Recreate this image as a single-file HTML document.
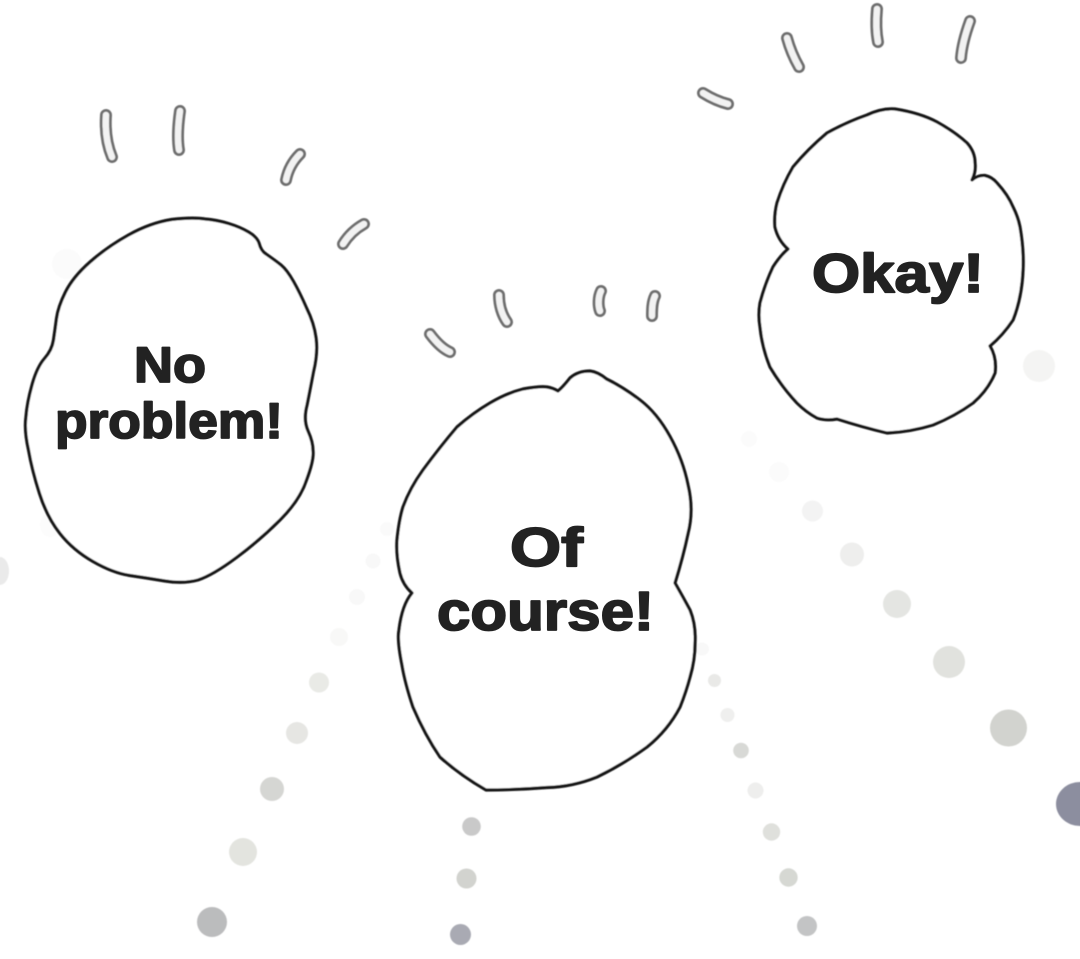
<!DOCTYPE html>
<html><head><meta charset="utf-8"><style>
html,body{margin:0;padding:0;background:#fff;width:1080px;height:959px;overflow:hidden}
svg{display:block}
text{font-family:"Liberation Sans",sans-serif;font-weight:700;fill:#222;stroke:#222;stroke-width:1.8px;stroke-linejoin:round}
</style></head><body>
<svg width="1080" height="959" viewBox="0 0 1080 959" xmlns="http://www.w3.org/2000/svg">
<defs><filter id="s" x="-5%" y="-5%" width="110%" height="110%"><feGaussianBlur stdDeviation="0.45"/></filter></defs>
<rect width="1080" height="959" fill="#fff"/>
<g filter="url(#s)">
<circle cx="212" cy="922" r="15" fill="#bbbcbd"/><ellipse cx="243" cy="852" rx="14" ry="14" fill="#e3e4df"/><circle cx="272" cy="789" r="12" fill="#d5d6d3"/><circle cx="297" cy="733" r="11" fill="#e6e6e3"/><circle cx="319" cy="682.500" r="10" fill="#e9eae6"/><circle cx="339" cy="637" r="9" fill="#f8f8f7"/><circle cx="357" cy="597" r="8" fill="#f8f8f8"/><circle cx="373" cy="561" r="7.500" fill="#f8f8f8"/><circle cx="387" cy="529" r="7" fill="#fafafa"/>
<circle cx="460.500" cy="934.500" r="10.500" fill="#a9aab3"/><circle cx="466.500" cy="878.500" r="10" fill="#d2d3cf"/><circle cx="471.500" cy="826.500" r="9.300" fill="#c9c9c9"/>
<ellipse cx="807" cy="926" rx="10" ry="10" fill="#c3c4c5"/><circle cx="788.500" cy="877.500" r="9.200" fill="#d6d8d3"/><ellipse cx="771.500" cy="832" rx="8.700" ry="8.700" fill="#dfe0dc"/><ellipse cx="755.500" cy="790.500" rx="8" ry="8" fill="#eeeeed"/><ellipse cx="741" cy="750.500" rx="7.800" ry="7.800" fill="#d8d9d6"/><ellipse cx="727.500" cy="715" rx="7" ry="7" fill="#efefee"/><ellipse cx="714.500" cy="680.500" rx="6.500" ry="6.500" fill="#e9e9e7"/><ellipse cx="702" cy="649" rx="7" ry="6.500" fill="#f8f8f8"/>
<ellipse cx="1080" cy="804" rx="24" ry="22" fill="#8c8e9f"/>
<ellipse cx="1008.500" cy="728" rx="18.500" ry="18.500" fill="#d2d3cf"/><ellipse cx="949" cy="662" rx="16" ry="16" fill="#e1e2de"/><ellipse cx="897" cy="604" rx="14" ry="14" fill="#e4e5e2"/><ellipse cx="852" cy="554.500" rx="12" ry="12" fill="#eeeeed"/><ellipse cx="812.500" cy="511" rx="10.500" ry="10.500" fill="#f3f3f3"/><ellipse cx="779" cy="472" rx="10" ry="10" fill="#fbfbfb"/><ellipse cx="749" cy="439" rx="8" ry="8" fill="#fbfbfb"/>
<ellipse cx="1039" cy="366" rx="16" ry="16" fill="#f4f4f3"/><ellipse cx="67" cy="264" rx="15" ry="15" fill="#fbfbfb"/><ellipse cx="0" cy="571" rx="9" ry="14" fill="#eaeaea"/><ellipse cx="50" cy="525" rx="10" ry="12" fill="#fcfcfc"/>
</g>
<g filter="url(#s)" fill="#fff" stroke="#151515" stroke-width="3.200" stroke-linejoin="round" stroke-linecap="round">
<path d="M205 219Q217 220 228.500 223.500Q240 227 248.500 232Q257 237 259 243Q261 251 266 254Q276 261 281 265Q287 270 293.500 281.500Q300 293 306.500 308Q314 323 316 338Q318 353 313.500 371.500Q310 390 307 405Q303 420 308 431Q313 442 313 451Q314 460 306.500 480Q300 500 280 520Q260 540 236.500 557.500Q213 575 198 580Q183 584 165 581Q147 578 130 575.500Q113 573 93 561.500Q73 550 60 533.500Q47 517 39.500 493.500Q32 470 28.500 450Q24 430 26 416.500Q27 403 32 385Q37 367 44.500 358.500Q52 350 53.500 340Q55 330 56.500 318.500Q58 307 65.500 292Q73 277 90 262Q107 247 128.500 235Q150 223 171.500 219.500Q193 217 205 219Z"/>
<path d="M606.500 379Q623 387 640 400Q657 413 670 436.500Q683 460 688 485Q694 510 688 533.500Q683 557 675 583Q683 597 690 610Q696 625 695 643Q695 660 690 677Q686 692 680 707Q668 730 647 747Q622 765 597 777Q572 787 547 787.500Q515 790 486 790Q460 775 440 757Q425 735 413 707Q405 683 402 665Q397 640 399 630Q402 605 412 593Q403 585 400 573Q396 555 397 540Q399 520 403 507Q410 488 423 470Q440 447 457 427Q473 413 490 403Q507 393 523 389Q540 386 547 387Q553 388 558 391Q563 387 570 378Q578 371 590 371Q598 372 606.500 379Z"/>
<path d="M895 109Q920 113 937 122Q955 132 967 143Q975 152 975 163Q976 172 972 180Q978 175 985 175.500Q992 177 997 183Q1008 195 1013 207Q1018 217 1020 227Q1024 250 1023 270Q1022 297 1013 320Q1003 335 990 346Q997 358 995 373Q988 390 973 403Q955 416 933 425Q910 432 887 433Q862 427 837 419Q826 421 817 418Q806 412 797 403Q782 387 770 367Q762 347 760 327Q758 315 760 303Q765 284 773 267Q780 256 788 249Q778 240 775 227Q774 215 777 203Q783 184 793 167Q808 149 827 133Q847 122 867 115Q882 108 895 109Z"/>
</g>
<g filter="url(#s)" fill="none" stroke-linecap="round" stroke-linejoin="round">
<g stroke="#6e6e6e" stroke-width="12">
<path d="M106 115C105 130 107 145 112 157"/><path d="M180 111C178 125 177 138 179 150"/><path d="M300 154C293 161 288 170 286 180"/><path d="M364 224C355 229 348 236 343 244"/>
<path d="M430 334C436 342 443 349 450 352"/><path d="M499 295C499 305 502 315 507 322"/><path d="M601 291C598 297 598 306 600 311"/><path d="M655 296C652 302 652 310 652 316"/>
<path d="M703 93C711 98 720 102 728 104"/><path d="M787 38C790 49 795 60 799 67"/><path d="M877 9C876 20 876 32 878 42"/><path d="M970 21C966 32 962 45 961 58"/>
</g>
<g stroke="#f2f2f2" stroke-width="6.500">
<path d="M106 115C105 130 107 145 112 157"/><path d="M180 111C178 125 177 138 179 150"/><path d="M300 154C293 161 288 170 286 180"/><path d="M364 224C355 229 348 236 343 244"/>
<path d="M430 334C436 342 443 349 450 352"/><path d="M499 295C499 305 502 315 507 322"/><path d="M601 291C598 297 598 306 600 311"/><path d="M655 296C652 302 652 310 652 316"/>
<path d="M703 93C711 98 720 102 728 104"/><path d="M787 38C790 49 795 60 799 67"/><path d="M877 9C876 20 876 32 878 42"/><path d="M970 21C966 32 962 45 961 58"/>
</g>
</g>
<g font-size="50">
<text x="134" y="382" textLength="72" lengthAdjust="spacingAndGlyphs">No</text>
<text x="55" y="438" textLength="228" lengthAdjust="spacingAndGlyphs">problem!</text>
<text x="510" y="566" font-size="55" textLength="73" lengthAdjust="spacingAndGlyphs">Of</text>
<text x="437" y="630" font-size="55" textLength="217" lengthAdjust="spacingAndGlyphs">course!</text>
<text x="812" y="292" font-size="55" textLength="172" lengthAdjust="spacingAndGlyphs">Okay!</text>
</g>
</svg>
</body></html>
